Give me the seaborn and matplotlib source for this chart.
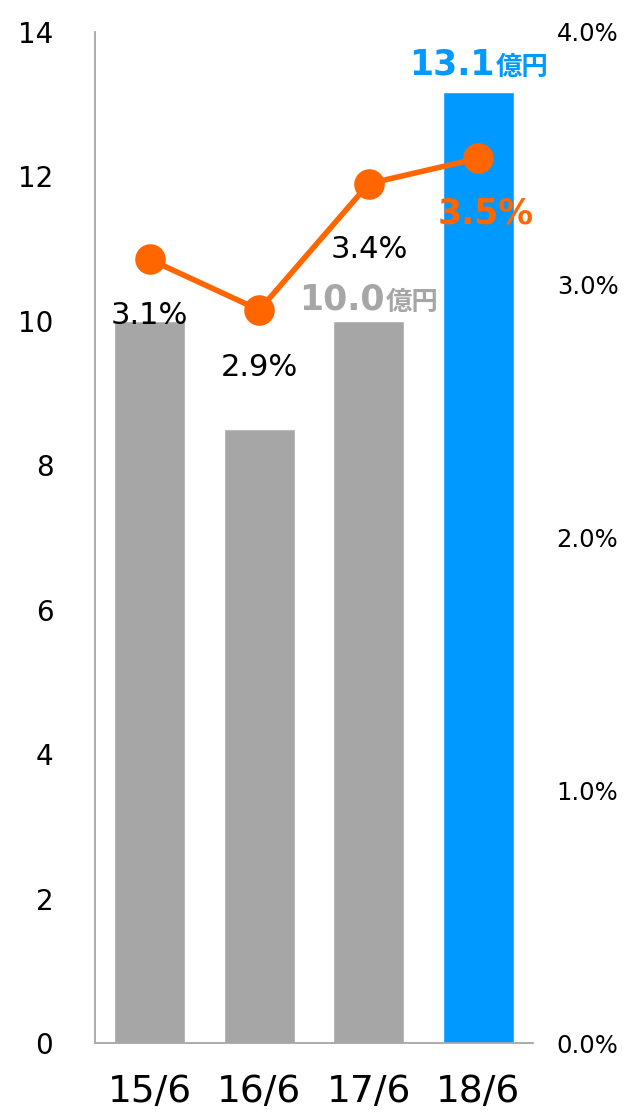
import matplotlib
matplotlib.use("Agg")
import matplotlib.pyplot as plt
import seaborn as sns
import pandas as pd

# data
periods = ["15/6", "16/6", "17/6", "18/6"]
sales = [10.0, 8.5, 10.0, 13.17]         # 億円, left axis
sales_labels = ["10.0", "8.5", "10.0", "13.1"]
rates = [3.1, 2.9, 3.4, 3.5]             # %, right axis
rate_labels = ["3.1%", "2.9%", "3.4%", "3.5%"]
bar_colors = ["#A6A6A6", "#A6A6A6", "#A6A6A6", "#0099FF"]
line_color = "#FF6600"

PX = 0.72  # pixels -> points at dpi 100

sns.set_style("white")
plt.rcParams["font.family"] = ["DejaVu Sans", "Noto Sans CJK JP"]
plt.rcParams["text.color"] = "black"
plt.rcParams["xtick.color"] = "black"
plt.rcParams["ytick.color"] = "black"

df = pd.DataFrame({"period": periods, "sales": sales, "rate": rates})

fig = plt.figure(figsize=(6.25, 11.14), dpi=100)
ax = fig.add_axes([0.152, 0.0637, 0.701, 0.9076])

sns.barplot(data=df, x="period", y="sales", hue="period", palette=bar_colors,
            width=0.65, legend=False, saturation=1, ax=ax)
ax.set_xlim(-0.5, 3.5)
ax.set_ylim(0, 14)
ax.set_yticks(range(0, 15, 2))
ax.set_xlabel("")
ax.set_ylabel("")
ax.tick_params(axis="y", length=0, labelsize=20, pad=30, labelcolor="black")
ax.tick_params(axis="x", length=0, labelsize=27, pad=22, labelcolor="black")
for lab in ax.get_yticklabels():
    lab.set_horizontalalignment("right")
for side in ["top", "right"]:
    ax.spines[side].set_visible(False)
for side in ["left", "bottom"]:
    ax.spines[side].set_color("#A6A6A6")
    ax.spines[side].set_linewidth(1.3)

# line on secondary axis
ax2 = ax.twinx()
sns.pointplot(data=df, x="period", y="rate", color=line_color, markers="o",
              markersize=19, linewidth=4, errorbar=None, ax=ax2)
ax2.set_xlim(-0.5, 3.5)
ax2.set_ylim(0, 4.0)
ax2.set_yticks([0, 1, 2, 3, 4])
ax2.set_yticklabels([f"{v:.1f}%" for v in [0, 1, 2, 3, 4]])
ax2.set_ylabel("")
ax2.tick_params(axis="y", length=0, labelsize=17.5, pad=17, labelcolor="black")
for side in ax2.spines:
    ax2.spines[side].set_visible(False)

# rate labels under the points
rate_gap = [65, 66, 74, 65]
for i, (r, lab) in enumerate(zip(rates, rate_labels)):
    if i == 3:
        ax2.annotate(lab, xy=(i, r), xytext=(7 * PX, -rate_gap[i] * PX),
                     textcoords="offset points", ha="center", va="baseline",
                     fontsize=25, fontweight="bold", color=line_color)
    else:
        ax2.annotate(lab, xy=(i, r), xytext=(0, -rate_gap[i] * PX),
                     textcoords="offset points", ha="center", va="baseline",
                     fontsize=22, color="black")

# value labels above the grey 17/6 and blue 18/6 bars
for i, gap in [(2, 11), (3, 17)]:
    col = bar_colors[i]
    ax.annotate(sales_labels[i], xy=(i, sales[i]), xytext=(16 * PX, gap * PX),
                textcoords="offset points", ha="right", va="baseline",
                fontsize=25, fontweight="bold", color=col, zorder=5)
    ax.annotate("億円", xy=(i, sales[i]), xytext=(17 * PX, gap * PX),
                textcoords="offset points", ha="left", va="baseline",
                fontsize=19, fontweight="bold", color=col, zorder=5)

fig.savefig("out.png", dpi=100)
